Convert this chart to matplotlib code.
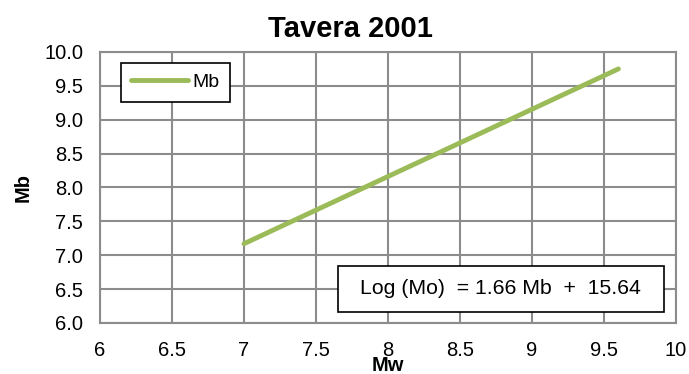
import matplotlib.pyplot as plt
from matplotlib.patches import Rectangle
from matplotlib.ticker import MultipleLocator, FormatStrFormatter

# Tavera (2001) Mw -> Mb relation
mw = [7.0, 9.6]
mb = [7.17, 9.75]
x_ticks = [6, 6.5, 7, 7.5, 8, 8.5, 9, 9.5, 10]
x_labels = ['6', '6.5', '7', '7.5', '8', '8.5', '9', '9.5', '10']
equation = 'Log (Mo)  = 1.66 Mb  +  15.64'

plt.rcParams['font.family'] = ['Liberation Sans', 'DejaVu Sans']

grid_color = '#8c8c8c'
line_color = '#9bbb59'

fig = plt.figure(figsize=(6.89, 3.74), dpi=100)
ax = fig.add_axes([0.1451, 0.1364, 0.836, 0.7246])

ax.plot(mw, mb, color=line_color, linewidth=3.5, solid_capstyle='round', label='Mb')

ax.set_xlim(6, 10)
ax.set_ylim(6, 10)
ax.set_xticks(x_ticks)
ax.set_xticklabels(x_labels)
ax.yaxis.set_major_locator(MultipleLocator(0.5))
ax.yaxis.set_major_formatter(FormatStrFormatter('%.1f'))
ax.tick_params(length=0, labelsize=14.5)
ax.tick_params(axis='x', pad=13)
ax.tick_params(axis='y', pad=12)

ax.grid(True, color=grid_color, linewidth=1.5)
ax.set_axisbelow(True)
for spine in ax.spines.values():
    spine.set_color(grid_color)
    spine.set_linewidth(1.5)

ax.set_title('Tavera 2001', fontsize=21, fontweight='bold', x=0.434, pad=11)
ax.set_xlabel('Mw', fontsize=14.5, fontweight='bold')
ax.set_ylabel('Mb', fontsize=14.5, fontweight='bold')
ax.xaxis.set_label_coords(0.5, -0.12)
ax.yaxis.set_label_coords(-0.117, 0.5)

leg = ax.legend(loc='upper left', bbox_to_anchor=(0.036, 0.96), fontsize=14,
                fancybox=False, framealpha=1, edgecolor='black',
                handlelength=2.9, handletextpad=0.25, borderpad=0.55,
                borderaxespad=0)
leg.get_frame().set_linewidth(1.2)
leg.get_lines()[0].set_solid_capstyle('round')

# equation box in the lower right corner
ax.add_patch(Rectangle((0.413, 0.041), 0.566, 0.169, transform=ax.transAxes,
                       facecolor='white', edgecolor='black', linewidth=1.2,
                       zorder=4))
ax.text(0.696, 0.1255, equation, transform=ax.transAxes, fontsize=15.3,
        ha='center', va='center', zorder=5)

fig.savefig('out.png', dpi=100)
